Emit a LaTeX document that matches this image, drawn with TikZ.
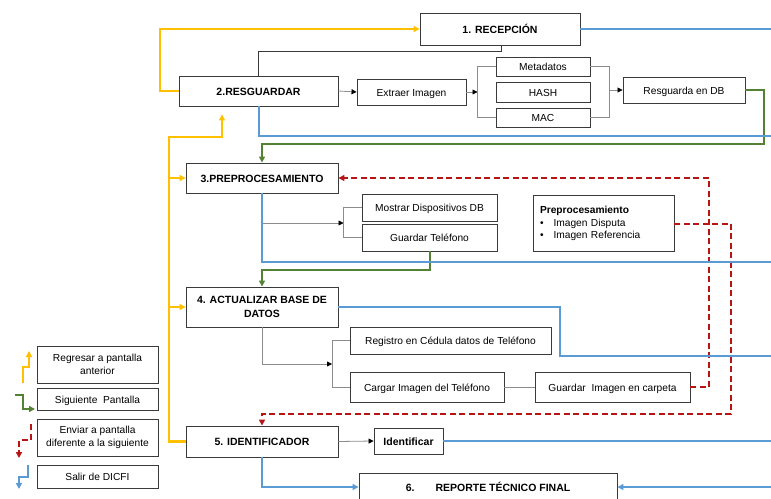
\documentclass[tikz,border=0pt]{standalone}
\usepackage{fontspec}
\setmainfont{Liberation Sans}
\usetikzlibrary{arrows.meta,calc}
\definecolor{cyl}{HTML}{FFC000}
\definecolor{cbl}{HTML}{5B9BD5}
\definecolor{cgr}{HTML}{548235}
\definecolor{crd}{HTML}{B81414}
\definecolor{cgy}{HTML}{8C8C8C}
\definecolor{boxc}{HTML}{3A3A3A}
\begin{document}
\begin{tikzpicture}[x=1pt,y=-1pt,
  font=\fontsize{10.2}{12}\selectfont,
  box/.style={draw=boxc, line width=0.9pt, fill=white, inner sep=2pt, align=center},
  sl/.style={text height=10pt, text depth=2pt},
  ttl/.style={box, font=\fontsize{10.5}{13.5}\selectfont\bfseries},
  sz/.style n args={2}{minimum width=#1pt, minimum height=#2pt},
  yl/.style={draw=cyl, line width=2.2pt},
  bl/.style={draw=cbl, line width=2pt},
  gr/.style={draw=cgr, line width=2pt},
  rd/.style={draw=crd, line width=2pt, dash pattern=on 6pt off 3.5pt},
  gy/.style={draw=cgy, line width=0.8pt},
  dk/.style={draw=boxc, line width=0.9pt},
  tipc/.style={-{Triangle[length=6pt,width=6pt]}},
  tipk/.style={-{Triangle[length=5pt,width=5pt,color=black]}},
]
\useasboundingbox (0,0) rectangle (771,498);

% ---------- main boxes ----------
\node[ttl, sl, sz={160}{32}] (rec) at (500,29) {1. RECEPCIÓN};
\node[ttl, sl, sz={159}{30}] (res) at (258.5,91) {2.RESGUARDAR};
\node[box, sl, sz={109}{26}] (ext) at (411.5,92) {Extraer Imagen};
\node[box, sl, sz={94}{19}] (meta) at (543,66.5) {Metadatos};
\node[box, sl, sz={94}{20}] (hash) at (543,92) {HASH};
\node[box, sl, sz={94}{19}] (mac) at (543,117.5) {MAC};
\node[box, sl, sz={122}{26}] (rdb) at (684,90) {Resguarda en DB};

\node[ttl, sl, sz={152}{30}] (pre) at (262,178) {3.PREPROCESAMIENTO};
\node[box, sl, sz={135}{27}] (most) at (429.5,207.5) {Mostrar Dispositivos DB};
\node[box, sl, sz={135}{27}] (guat) at (429.5,237.5) {Guardar Teléfono};
\node[box, text width=127pt, inner xsep=7pt, minimum height=56pt, align=left,
      font=\fontsize{10.2}{12.5}\selectfont] (pbox) at (603.5,223.5)
  {\textbf{Preprocesamiento}\\\textbullet\hspace{10pt}Imagen Disputa\\\textbullet\hspace{10pt}Imagen Referencia};

\node[ttl, sz={152}{40}] (act) at (262,307) {4. ACTUALIZAR BASE DE\\DATOS};
\node[box, sl, sz={201}{27}] (reg) at (450.5,340.5) {Registro en Cédula datos de Teléfono};
\node[box, sl, sz={154}{30}] (car) at (427,387) {Cargar Imagen del Teléfono};
\node[box, sl, sz={155}{30}] (gim) at (612.5,387) {Guardar\ \ Imagen en carpeta};

\node[ttl, sl, sz={152}{31}] (ide) at (262,441.5) {5. IDENTIFICADOR};
\node[ttl, sl, sz={69}{26}] (idf) at (408.5,441) {Identificar};
\node[ttl, sl, sz={258}{28}] (rep) at (488,487) {6.\hspace{21pt}REPORTE TÉCNICO FINAL};

% ---------- legend ----------
\node[box, sz={121}{37}, font=\fontsize{10.2}{13.5}\selectfont] (lg1) at (97.5,364.5) {Regresar a pantalla\\anterior};
\node[box, sl, sz={121}{22}] (lg2) at (97.5,399) {Siguiente\ \ Pantalla};
\node[box, sz={121}{37}, font=\fontsize{10.2}{13.5}\selectfont] (lg3) at (97.5,437.5) {Enviar a pantalla\\diferente a la siguiente};
\node[box, sl, sz={121}{23}] (lg4) at (97.5,476.5) {Salir de DICFI};

\draw[yl, tipc] (23,383) -- (23,367) -- (29,367) -- (29,351);
\draw[gr, tipc] (15,395) -- (23,395) -- (23,409) -- (35,409);
\draw[rd, tipc] (31,424) -- (31,440) -- (19,440) -- (19,458);
\draw[bl, tipc] (28,465) -- (28,477) -- (19,477) -- (19,489);

% ---------- edge coordinates ----------
\coordinate (eA) at (771,29);
\coordinate (eB) at (771,136);
\coordinate (eC) at (771,262);
\coordinate (eD) at (771,356);
\coordinate (eE) at (771,441);
\coordinate (eF) at (771,487);

% ---------- gray flow connectors ----------
\draw[dk] ([xshift=1pt]rec.south) -- (501,51) -- (258.5,51) -- (res.north);
\draw[gy, tipk] (res.east) -- (ext.west);
\draw[gy, tipk] (ext.east) -- (477.5,92);
\draw[gy] (meta.west) -- (477,66.5) -- (477,117.5) -- (mac.west);
\draw[gy] (meta.east) -- (609,66.5) -- (609,117.5) -- (mac.east);
\draw[gy, tipk] (609,90) -- (rdb.west);

\draw[gy] (pre.south) -- (262,223);
\draw[gy, tipk] (262,223) -- (343.5,223);
\draw[gy] (most.west) -- (343,207.5) -- (343,237.5) -- (guat.west);

\draw[gy, tipk] (act.south) -- (262,364) -- (332,364);
\draw[gy] (reg.west) -- (332,340.5) -- (332,387) -- (car.west);
\draw[gy] (car.east) -- (gim.west);
\draw[gy, tipk] (ide.east) -- (idf.west);

% ---------- yellow: back ----------
\draw[yl, tipc] (res.west) -- (160,91) -- (160,29) -- (rec.west);
\draw[yl, tipc] (ide.west) -- (169,441.5) -- (169,137) -- (222,137) -- ([xshift=-36.5pt,yshift=-8pt]res.south);
\draw[yl, tipc] (169,178) -- (pre.west);
\draw[yl, tipc] (169,307) -- (act.west);

% ---------- green: next ----------
\draw[gr, tipc] (rdb.east) -- (764,90) -- (764,144) -- (262,144) -- (pre.north);
\draw[gr, tipc] (guat.south) -- (429.5,270) -- (262,270) -- (act.north);

% ---------- red dashed: other screen ----------
\draw[rd, tipc] (pbox.east) -- (731,223.5) -- (731,414) -- (262,414) -- (ide.north);
\draw[rd, tipc] (gim.east) -- (709,387) -- (709,178) -- (pre.east);

% ---------- blue: exit ----------
\draw[bl] (rec.east) -- (eA);
\draw[bl] (res.south) -- (258.5,136) -- (eB);
\draw[bl] (pre.south) -- (262,262) -- (eC);
\draw[bl] (act.east) -- (560,307) -- (560,356) -- (eD);
\draw[bl] (idf.east) -- (eE);
\draw[bl, tipc] (ide.south) -- (262,487) -- (rep.west);
\draw[bl, tipc] (eF) -- (rep.east);
\end{tikzpicture}
\end{document}
